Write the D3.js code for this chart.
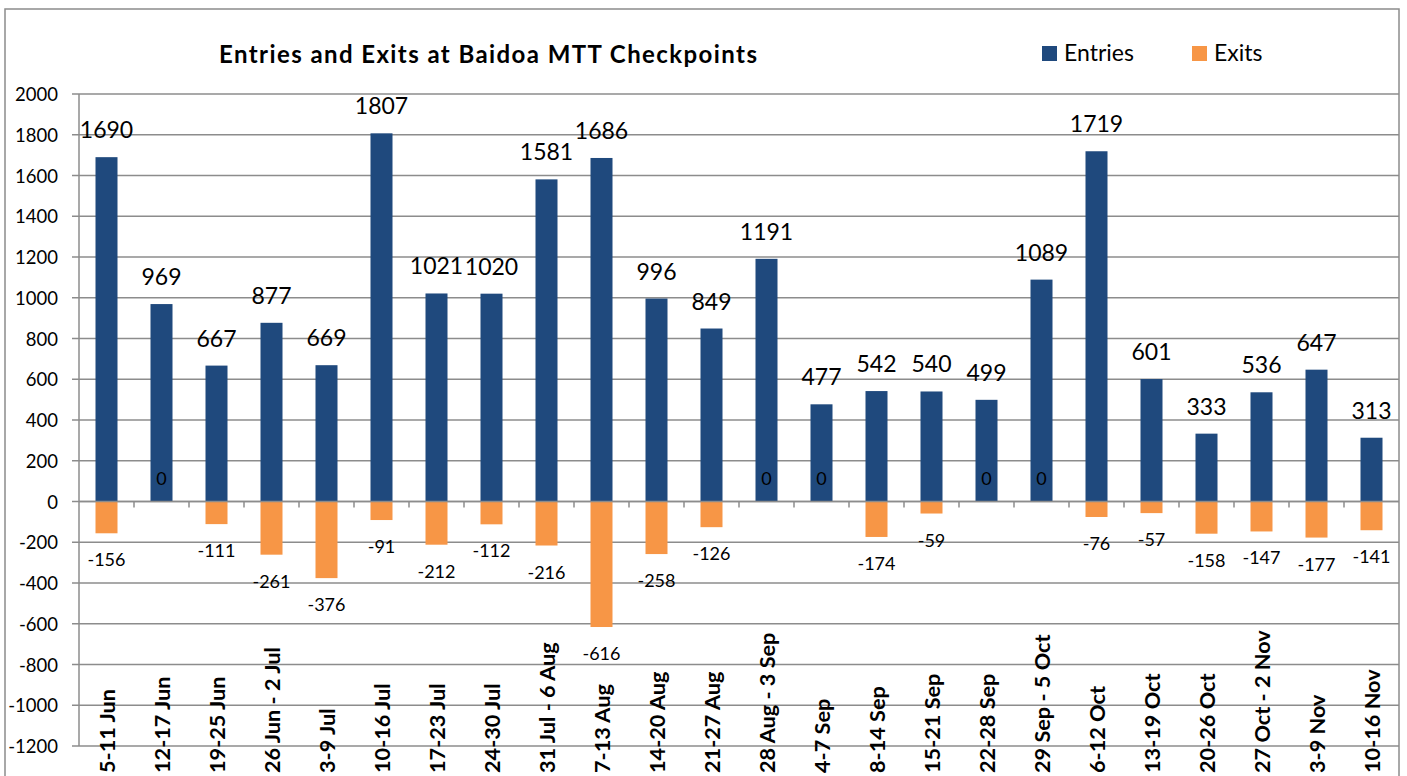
<!DOCTYPE html>
<html>
<head>
<meta charset="utf-8">
<script src="https://cdn.jsdelivr.net/npm/d3@7"></script>
<style>
  body { margin: 0; background: #fff; }
  svg { display: block; font-family: Lato, 'Open Sans', sans-serif; }
</style>
</head>
<body>
<svg width="1407" height="776"></svg>
<script>
// Data
var weeks = ['5-11 Jun', '12-17 Jun', '19-25 Jun', '26 Jun - 2 Jul', '3-9 Jul', '10-16 Jul',
  '17-23 Jul', '24-30 Jul', '31 Jul - 6 Aug', '7-13 Aug', '14-20 Aug', '21-27 Aug',
  '28 Aug - 3 Sep', '4-7 Sep', '8-14 Sep', '15-21 Sep', '22-28 Sep', '29 Sep - 5 Oct',
  '6-12 Oct', '13-19 Oct', '20-26 Oct', '27 Oct - 2 Nov', '3-9 Nov', '10-16 Nov']
var entries = [1690, 969, 667, 877, 669, 1807, 1021, 1020, 1581, 1686, 996, 849,
  1191, 477, 542, 540, 499, 1089, 1719, 601, 333, 536, 647, 313]
var exits = [-156, 0, -111, -261, -376, -91, -212, -112, -216, -616, -258, -126,
  0, 0, -174, -59, 0, 0, -76, -57, -158, -147, -177, -141]
var yTicks = [-1200, -1000, -800, -600, -400, -200, 0, 200, 400, 600, 800, 1000, 1200, 1400, 1600, 1800, 2000]

var title = 'Entries and Exits at Baidoa MTT Checkpoints'
var seriesNames = ['Entries', 'Exits']
var colors = ['#1f497d', '#f79646']

var svg = d3.select('svg')

// Plot area
var plotLeft = 79, plotRight = 1399, plotTop = 94, plotBottom = 746

var x = d3.scaleBand().domain(weeks).range([plotLeft, plotRight]).padding(0)
var y = d3.scaleLinear().domain([-1200, 2000]).range([plotBottom, plotTop])
var barW = x.bandwidth() * 0.4

// outer frame
svg.append('rect')
  .attr('x', 5).attr('y', 9)
  .attr('width', 1394).attr('height', 780)
  .attr('fill', 'none').attr('stroke', '#8c8c8c').attr('stroke-width', 1.5)

// gridlines
svg.append('g')
  .selectAll('line')
  .data(yTicks)
  .enter()
  .append('line')
  .attr('x1', plotLeft - 7).attr('x2', plotRight)
  .attr('y1', d => y(d)).attr('y2', d => y(d))
  .attr('stroke', '#8c8c8c').attr('stroke-width', 1.5)

// y axis line
svg.append('line')
  .attr('x1', plotLeft).attr('x2', plotLeft)
  .attr('y1', plotTop).attr('y2', plotBottom)
  .attr('stroke', '#8c8c8c').attr('stroke-width', 1.5)

// y labels
svg.append('g')
  .selectAll('text')
  .data(yTicks)
  .enter()
  .append('text')
  .attr('x', 58)
  .attr('y', d => y(d))
  .attr('dy', '0.38em')
  .attr('text-anchor', 'end')
  .attr('font-size', 18.5)
  .attr('fill', '#000')
  .text(d => d)

// bars - entries
svg.append('g')
  .selectAll('rect')
  .data(entries)
  .enter()
  .append('rect')
  .attr('x', (d, i) => x(weeks[i]) + (x.bandwidth() - barW) / 2)
  .attr('y', d => y(d))
  .attr('width', barW)
  .attr('height', d => y(0) - y(d))
  .attr('fill', colors[0])

// bars - exits (same slot, drawn below zero)
svg.append('g')
  .selectAll('rect')
  .data(exits)
  .enter()
  .append('rect')
  .attr('x', (d, i) => x(weeks[i]) + (x.bandwidth() - barW) / 2)
  .attr('y', y(0))
  .attr('width', barW)
  .attr('height', d => y(d) - y(0))
  .attr('fill', colors[1])

// zero axis + category ticks
svg.append('line')
  .attr('x1', plotLeft).attr('x2', plotRight)
  .attr('y1', y(0)).attr('y2', y(0))
  .attr('stroke', '#8c8c8c').attr('stroke-width', 1.5)

svg.append('g')
  .selectAll('line')
  .data(weeks.slice(1))
  .enter()
  .append('line')
  .attr('x1', d => x(d)).attr('x2', d => x(d))
  .attr('y1', y(0)).attr('y2', y(0) + 6)
  .attr('stroke', '#8c8c8c').attr('stroke-width', 1.5)

// entry labels
svg.append('g')
  .selectAll('text')
  .data(entries)
  .enter()
  .append('text')
  .attr('x', (d, i) => x(weeks[i]) + x.bandwidth() / 2)
  .attr('y', d => y(d) - 19)
  .attr('text-anchor', 'middle')
  .attr('font-size', 23)
  .text(d => d)

// exit labels
svg.append('g')
  .selectAll('text')
  .data(exits)
  .enter()
  .append('text')
  .attr('x', (d, i) => x(weeks[i]) + x.bandwidth() / 2)
  .attr('y', d => d === 0 ? y(0) - 17 : y(d) + 33)
  .attr('text-anchor', 'middle')
  .attr('font-size', 18)
  .text(d => d)

// category labels, rotated
svg.append('g')
  .selectAll('text')
  .data(weeks)
  .enter()
  .append('text')
  .attr('transform', d => 'translate(' + (x(d) + x.bandwidth() / 2 + 8) + ',773) rotate(-90)')
  .attr('font-size', 21.7)
  .attr('font-weight', 'bold')
  .text(d => d)

// title
svg.append('text')
  .attr('x', 219).attr('y', 63)
  .attr('font-size', 24)
  .attr('font-weight', 'bold')
  .attr('textLength', 538)
  .attr('lengthAdjust', 'spacing')
  .text(title)

// legend
var legend = svg.append('g')
var legendX = [1042, 1192]
seriesNames.forEach((name, i) => {
  legend.append('rect')
    .attr('x', legendX[i]).attr('y', 46)
    .attr('width', 15).attr('height', 15)
    .attr('fill', colors[i])
  legend.append('text')
    .attr('x', legendX[i] + 22).attr('y', 61)
    .attr('font-size', 23)
    .text(name)
})
</script>
</body>
</html>
